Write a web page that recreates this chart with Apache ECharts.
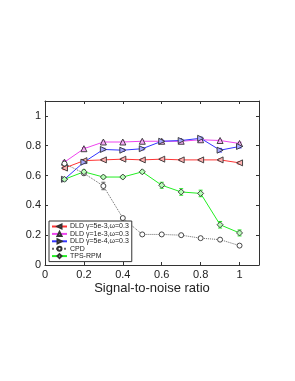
<!DOCTYPE html>
<html><head><meta charset="utf-8">
<script src="https://cdn.jsdelivr.net/npm/echarts@6/dist/echarts.min.js"></script>
<style>html,body{margin:0;padding:0;background:#fff}#c{width:295px;height:381px}</style>
</head><body><div id="c"></div>
<script>
var snr = [0.1,0.2,0.3,0.4,0.5,0.6,0.7,0.8,0.9,1.0];
var xTicks = [0,0.2,0.4,0.6,0.8,1];
var yTicks = [0,0.2,0.4,0.6,0.8,1];
var names = ['DLD \u03b3=5e-3,\u03c9=0.3','DLD \u03b3=1e-3,\u03c9=0.3','DLD \u03b3=5e-4,\u03c9=0.3','CPD','TPS-RPM'];
var dldA = [0.65,0.70,0.705,0.71,0.705,0.71,0.705,0.705,0.705,0.685];
var dldB = [0.69,0.78,0.825,0.825,0.83,0.83,0.83,0.84,0.835,0.815];
var dldC = [0.575,0.69,0.775,0.77,0.78,0.83,0.835,0.85,0.77,0.795];
var cpd  = [0.68,0.615,0.53,0.315,0.205,0.205,0.20,0.18,0.17,0.13];
var tps  = [0.575,0.625,0.59,0.59,0.625,0.535,0.49,0.48,0.27,0.215];
var errA = [0.01,0.008,0.006,0.006,0.006,0.006,0.006,0.006,0.006,0.008];
var errB = [0.01,0.008,0.006,0.006,0.006,0.006,0.006,0.006,0.006,0.008];
var errC = [0.01,0.01,0.008,0.008,0.008,0.008,0.008,0.008,0.012,0.01];
var errD = [0.01,0.01,0.025,0.008,0.006,0.006,0.006,0.006,0.006,0.006];
var errE = [0.01,0.012,0.01,0.01,0.01,0.02,0.022,0.022,0.022,0.02];
var colors = ['#ff3333','#ee44ee','#3333ff','#666666','#22ee22'];
var fills = ['#ffb0b0','#f6aaf6','#a8a8ff','#ffffff','#b8ffb8'];
var symbols = ['triangle','triangle','triangle','circle','diamond'];
var rotates = [90,0,-90,0,0];
var values = [dldA,dldB,dldC,cpd,tps];
var errs = [errA,errB,errC,errD,errE];

var series = [];
values.forEach(function(v,i){
  series.push({
    type:'custom', silent:true, z:2,
    data: snr.map(function(x,j){return [x, v[j]-errs[i][j], v[j]+errs[i][j]];}),
    renderItem:function(params,api){
      var p1 = api.coord([api.value(0), api.value(1)]);
      var p2 = api.coord([api.value(0), api.value(2)]);
      return {type:'group',children:[
        {type:'line',shape:{x1:p1[0],y1:p1[1],x2:p2[0],y2:p2[1]},style:{stroke:colors[i],lineWidth:1}},
        {type:'line',shape:{x1:p1[0]-2,y1:p1[1],x2:p1[0]+2,y2:p1[1]},style:{stroke:colors[i],lineWidth:1}},
        {type:'line',shape:{x1:p2[0]-2,y1:p2[1],x2:p2[0]+2,y2:p2[1]},style:{stroke:colors[i],lineWidth:1}}
      ]};
    }
  });
});
values.forEach(function(v,i){
  series.push({
    name:names[i], type:'line', z:3,
    data: snr.map(function(x,j){return [x,v[j]];}),
    symbol:symbols[i], symbolRotate:rotates[i], symbolSize:i===3?5:6,
    showAllSymbol:true,
    lineStyle:{color:colors[i], width:1, type: i===3?'dotted':'solid'},
    itemStyle:{color: fills[i], borderColor:'#333', borderWidth:0.9},
    emphasis:{disabled:true}
  });
});

function fmt(list){return function(v){var r=Math.round(v*10)/10;return list.indexOf(r)>=0?String(r):'';};}
var tick = {show:true,inside:true,length:3,lineStyle:{color:'#333'}};
var line = {show:true,onZero:false,lineStyle:{color:'#333'}};
var chart = echarts.init(document.getElementById('c'));
chart.setOption({
  animation:false,
  grid:{left:45,right:36,top:101,bottom:116},
  xAxis:[{type:'value',position:'bottom',min:0,max:1.1,interval:0.2,
    name:'Signal-to-noise ratio',nameLocation:'middle',nameGap:17,
    nameTextStyle:{fontSize:13,color:'#222',fontFamily:'Liberation Sans'},
    axisLine:line, axisTick:tick,
    axisLabel:{fontSize:11,color:'#222',margin:4,fontFamily:'Liberation Sans',formatter:fmt(xTicks)},
    splitLine:{show:false}},
   {type:'value',position:'top',min:0,max:1.1,interval:0.2,
    axisLine:line, axisTick:tick, axisLabel:{show:false}, splitLine:{show:false}}],
  yAxis:[{type:'value',position:'left',min:0,max:1.1,interval:0.2,
    axisLine:line, axisTick:tick,
    axisLabel:{fontSize:11,color:'#222',margin:4,fontFamily:'Liberation Sans',formatter:fmt(yTicks)},
    splitLine:{show:false}},
   {type:'value',position:'right',min:0,max:1.1,interval:0.2,
    axisLine:line, axisTick:tick, axisLabel:{show:false}, splitLine:{show:false}}],
  legend:{
    orient:'vertical', left:49, top:221, data:names,
    itemWidth:15, itemHeight:5, itemGap:0.4,
    padding:[2,3,2,2],
    borderColor:'#333', borderWidth:1, backgroundColor:'#fff',
    textStyle:{fontSize:7,lineHeight:7,color:'#222',fontFamily:'Liberation Sans',padding:[0,0,0,-2]},
    selectedMode:false
  },
  series:series
});
</script></body></html>
